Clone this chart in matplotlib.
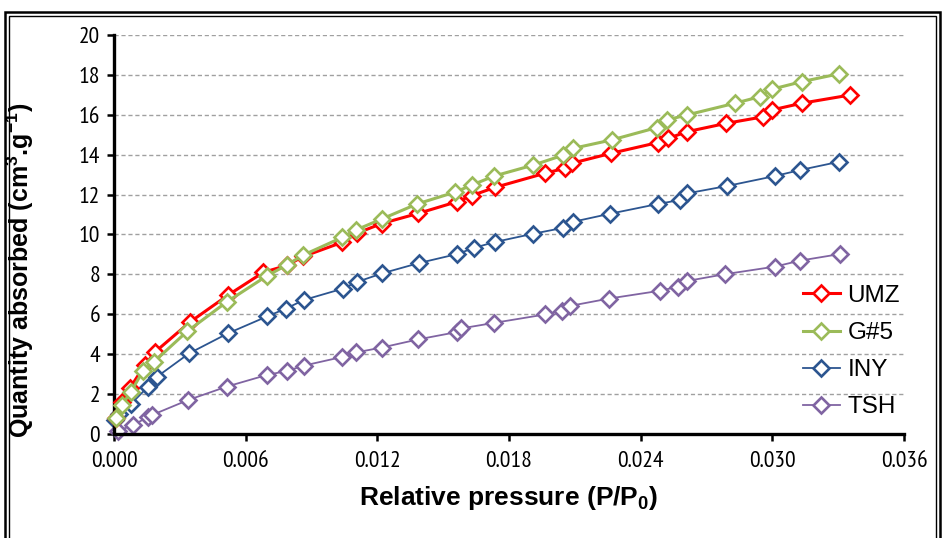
import matplotlib
matplotlib.use("Agg")
import matplotlib.pyplot as plt
from matplotlib import font_manager
from matplotlib.ticker import FormatStrFormatter, MultipleLocator
from matplotlib.patches import Rectangle

plt.rcParams['font.family'] = ['Liberation Sans', 'DejaVu Sans']
plt.rcParams['mathtext.fontset'] = 'custom'
plt.rcParams['mathtext.rm'] = 'Liberation Sans'
plt.rcParams['mathtext.bf'] = 'Liberation Sans:bold'
plt.rcParams['mathtext.it'] = 'Liberation Sans:italic'

_available = {f.name for f in font_manager.fontManager.ttflist}
TICK_FAMILY = 'Liberation Sans'
for cand in ['Liberation Sans Narrow', 'Arial Narrow', 'PT Sans Narrow', 'Roboto Condensed',
             'Archivo Narrow', 'Barlow Semi Condensed']:
    if cand in _available:
        TICK_FAMILY = cand
        break
TICK_SIZE = 17 if TICK_FAMILY != 'Liberation Sans' else 13.5

# ---- data (x in relative pressure, y in cm3/g) ----
umz_x = [0.00009, 0.00036, 0.00073, 0.00141, 0.00187, 0.00346, 0.00521, 0.00680, 0.00787, 0.00863,
         0.01038, 0.01106, 0.01220, 0.01387, 0.01562, 0.01630, 0.01736, 0.01964, 0.02055, 0.02086,
         0.02265, 0.02479, 0.02526, 0.02610, 0.02789, 0.02959, 0.02997, 0.03134, 0.03354]
umz_y = [0.80, 1.60, 2.31, 3.46, 4.11, 5.61, 6.97, 8.10, 8.45, 8.90,
         9.60, 10.06, 10.55, 11.06, 11.64, 11.95, 12.36, 13.07, 13.32, 13.57,
         14.07, 14.61, 14.82, 15.15, 15.57, 15.90, 16.24, 16.58, 16.99]

g5_x = [0.00009, 0.00036, 0.00077, 0.00132, 0.00182, 0.00333, 0.00515, 0.00696, 0.00787, 0.00863,
        0.01039, 0.01103, 0.01221, 0.01381, 0.01556, 0.01631, 0.01732, 0.01911, 0.02048, 0.02093,
        0.02268, 0.02474, 0.02519, 0.02610, 0.02830, 0.02944, 0.02997, 0.03134, 0.03302]
g5_y = [0.80, 1.45, 2.11, 3.16, 3.62, 5.14, 6.63, 7.92, 8.47, 8.97,
        9.85, 10.23, 10.78, 11.53, 12.13, 12.48, 12.93, 13.48, 13.98, 14.32,
        14.74, 15.36, 15.74, 15.99, 16.58, 16.91, 17.28, 17.66, 18.05]

iny_x = [0.00005, 0.00023, 0.00077, 0.00155, 0.00196, 0.00342, 0.00520, 0.00697, 0.00784, 0.00866,
         0.01044, 0.01107, 0.01221, 0.01390, 0.01564, 0.01641, 0.01734, 0.01911, 0.02046, 0.02093,
         0.02260, 0.02479, 0.02579, 0.02611, 0.02793, 0.03012, 0.03126, 0.03306]
iny_y = [0.70, 1.00, 1.50, 2.37, 2.87, 4.04, 5.05, 5.89, 6.29, 6.72,
         7.29, 7.62, 8.05, 8.57, 9.02, 9.33, 9.62, 10.04, 10.33, 10.64,
         11.04, 11.53, 11.73, 12.06, 12.43, 12.93, 13.23, 13.65]

tsh_x = [0.00018, 0.00087, 0.00155, 0.00173, 0.00337, 0.00515, 0.00697, 0.00788, 0.00866, 0.01039,
         0.01103, 0.01219, 0.01385, 0.01563, 0.01581, 0.01732, 0.01964, 0.02042, 0.02078, 0.02256,
         0.02488, 0.02570, 0.02611, 0.02784, 0.03012, 0.03126, 0.03308]
tsh_y = [0.15, 0.45, 0.85, 0.95, 1.70, 2.38, 2.96, 3.16, 3.43, 3.86,
         4.09, 4.33, 4.74, 5.11, 5.29, 5.57, 5.99, 6.19, 6.42, 6.79,
         7.18, 7.38, 7.67, 8.01, 8.39, 8.69, 9.02]

series = [
    ("UMZ", umz_x, umz_y, "#FF0000", 2.2, 3),
    ("G#5", g5_x, g5_y, "#9BBB59", 2.2, 4),
    ("INY", iny_x, iny_y, "#2C5590", 1.3, 2),
    ("TSH", tsh_x, tsh_y, "#8064A2", 1.3, 2),
]

W, H = 944, 538
fig = plt.figure(figsize=(W / 100, H / 100), dpi=100)
ax = fig.add_axes([114 / W, 1 - 434 / H, (904 - 114) / W, (434 - 35) / H])

handles = []
for name, xs, ys, col, lw, z in series:
    ln, = ax.plot(xs, ys, color=col, lw=lw, marker='D', markersize=8.5,
                  markerfacecolor='white', markeredgecolor=col, markeredgewidth=1.9,
                  zorder=z, label=name, clip_on=False)
    handles.append(ln)

ax.set_xlim(0, 0.036)
ax.set_ylim(0, 20)
ax.xaxis.set_major_locator(MultipleLocator(0.006))
ax.yaxis.set_major_locator(MultipleLocator(2))
ax.xaxis.set_major_formatter(FormatStrFormatter('%.3f'))
ax.yaxis.set_major_formatter(FormatStrFormatter('%d'))

ax.grid(axis='y', color='#A0A0A0', linestyle=(0, (3, 2)), linewidth=1.0)
ax.set_axisbelow(True)
for s in ['top', 'right']:
    ax.spines[s].set_visible(False)
for s in ['left', 'bottom']:
    ax.spines[s].set_linewidth(2.4)
    ax.spines[s].set_color('black')
ax.tick_params(axis='both', direction='out', length=5, width=1.8, colors='black',
               labelsize=TICK_SIZE, labelfontfamily=TICK_FAMILY)
ax.tick_params(axis='x', pad=7)
ax.tick_params(axis='y', pad=5)

ax.set_xlabel(r'Relative pressure (P/P$_{\mathbf{0}}$)', fontsize=19, fontweight='bold')
ax.set_ylabel(r'Quantity absorbed (cm$^{\mathbf{3}}$.g$^{\mathbf{-1}}$)', fontsize=18, fontweight='bold')
ax.xaxis.set_label_coords(0.5, (434 - 484) / 399)
ax.yaxis.set_label_coords((36 - 114) / 790, (434 - 270) / 399)

leg = ax.legend(handles=handles, loc='lower right', bbox_to_anchor=(1.015, 0.0), frameon=False,
                fontsize=17.5, handlelength=1.55, handletextpad=0.3, labelspacing=0.62,
                borderaxespad=0.25)

# double frame around the chart area
fig.patches.append(Rectangle((5 / W, -0.1), (940 - 5) / W, 1 - 12 / H + 0.1, transform=fig.transFigure,
                             fill=False, edgecolor='black', linewidth=1.8))
fig.patches.append(Rectangle((9 / W, -0.1), (936 - 9) / W, 1 - 16 / H + 0.1, transform=fig.transFigure,
                             fill=False, edgecolor='black', linewidth=1.0))

fig.savefig('out.png', dpi=100)
